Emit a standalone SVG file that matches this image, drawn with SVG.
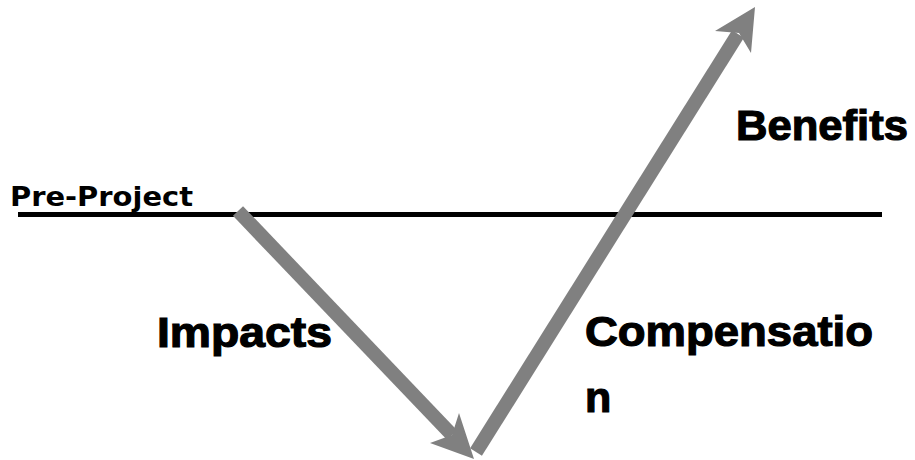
<svg xmlns="http://www.w3.org/2000/svg" width="915" height="460" viewBox="0 0 915 460">
<style>
.lbl{font-family:"Liberation Sans",Arial,sans-serif;font-weight:bold;fill:#000;stroke:#000;stroke-width:1.2}
.big{font-size:43px}
.small{font-family:"DejaVu Sans",Verdana,sans-serif;font-weight:bold;font-size:26px;fill:#000}
.shaft{stroke:#808080;stroke-width:14;fill:none;stroke-linecap:butt}
.head{fill:#808080;stroke:none}
</style>
<rect width="915" height="460" fill="#fff"/>
<g id="baseline">
<line x1="18" y1="214.5" x2="882" y2="214.5" stroke="#000" stroke-width="5"/>
</g>
<g id="connectors">
<line class="shaft" x1="238" y1="211" x2="452" y2="435"/>
<polygon class="head" points="474,459 430,443 452,435 459,413"/>
<line class="shaft" x1="476" y1="452" x2="738" y2="34"/>
<polygon class="head" points="755,7 751,53 739,33 715,31"/>
</g>
<g id="pre-project"><text class="small" x="10" y="206" textLength="183" lengthAdjust="spacingAndGlyphs">Pre-Project</text></g>
<g id="benefits"><text class="lbl big" x="736" y="140" textLength="172" lengthAdjust="spacingAndGlyphs">Benefits</text></g>
<g id="impacts"><text class="lbl big" x="157" y="347" textLength="175" lengthAdjust="spacingAndGlyphs">Impacts</text></g>
<g id="compensation"><text class="lbl big" x="585" y="346" textLength="288" lengthAdjust="spacingAndGlyphs">Compensatio</text><text class="lbl big" x="585" y="412">n</text></g>
</svg>
